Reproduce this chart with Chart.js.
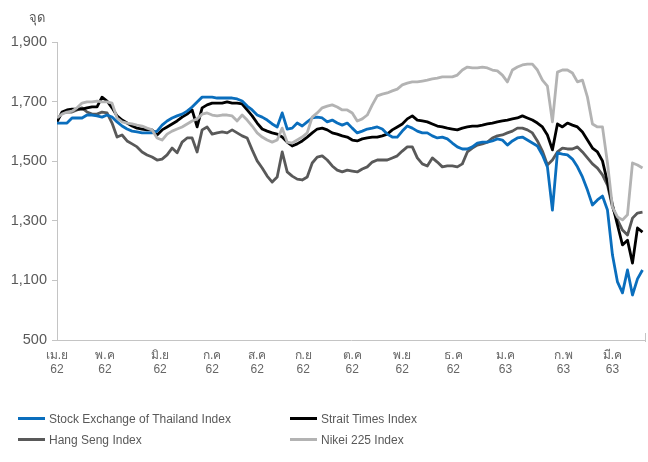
<!DOCTYPE html>
<html>
<head>
<meta charset="utf-8">
<script src="https://cdn.jsdelivr.net/npm/chart.js@4"></script>
<style>
  html, body { margin: 0; padding: 0; background: #ffffff; }
  #wrap { position: relative; width: 648px; height: 462px; }
  #chart { position: absolute; left: 0; top: 0; }
  #legend {
    position: absolute; left: 18px; top: 408px;
    display: grid; grid-template-columns: 272px 300px;
    font-family: 'Liberation Sans', 'DejaVu Sans', sans-serif;
    font-size: 12px; color: #595959;
  }
  .item { display: flex; align-items: center; height: 21px; white-space: nowrap; }
  .swatch { width: 27px; height: 3px; margin-right: 4px; }
</style>
</head>
<body>
<div id="wrap">
  <canvas id="chart" width="648" height="462"></canvas>
  <div id="legend"></div>
</div>
<script>
// Daily closes, April 2019 - March 2020 (one value per sample step)
const setIndex = [1628,1628,1628,1645,1645,1645,1655,1655,1652,1648, 1655,1648,1632,1618,1608,1601,1598,1595,1595,1595,
  1601,1621,1635,1645,1652,1658,1668,1682,1699,1715, 1715,1715,1712,1712,1712,1712,1709,1702,1685,1672,
  1655,1648,1638,1625,1615,1662,1608,1611,1628,1618, 1632,1645,1648,1645,1632,1638,1628,1621,1628,1611,
  1595,1601,1608,1611,1615,1608,1591,1581,1581,1601, 1618,1611,1601,1595,1595,1585,1578,1581,1575,1561,
  1548,1541,1541,1548,1561,1564,1564,1568,1575,1571, 1554,1568,1578,1581,1571,1561,1551,1521,1481,1336,
  1528,1524,1521,1507,1481,1447,1403,1353,1370,1383, 1336,1185,1095,1058,1135,1051,1105,1135];

const straitTimes = [1632,1665,1672,1675,1675,1675,1679,1682,1682,1715, 1702,1679,1652,1638,1628,1618,1611,1608,1605,1605,
  1588,1605,1615,1625,1635,1648,1658,1672,1615,1679, 1689,1695,1695,1695,1699,1695,1695,1692,1672,1652,
  1628,1608,1601,1595,1591,1581,1564,1551,1558,1568, 1581,1595,1608,1611,1605,1595,1591,1585,1581,1571,
  1568,1575,1578,1581,1581,1585,1591,1605,1615,1625, 1642,1652,1638,1635,1632,1625,1618,1615,1611,1608,
  1605,1611,1615,1618,1618,1621,1625,1628,1632,1635, 1638,1642,1645,1652,1645,1638,1628,1615,1588,1538,
  1625,1615,1628,1621,1615,1598,1571,1544,1531,1501, 1430,1353,1286,1219,1235,1158,1276,1262];

const hangSeng = [1638,1662,1665,1665,1672,1679,1665,1658,1658,1665, 1662,1628,1581,1588,1568,1558,1548,1531,1521,1514,
  1504,1507,1521,1544,1528,1564,1578,1578,1531,1605, 1615,1591,1595,1598,1595,1605,1595,1585,1578,1538,
  1501,1477,1450,1430,1447,1531,1464,1450,1440,1437, 1447,1494,1514,1518,1504,1484,1470,1464,1470,1467,
  1464,1474,1481,1497,1504,1504,1504,1511,1518,1534, 1548,1548,1511,1491,1484,1511,1497,1481,1484,1484,
  1481,1491,1531,1544,1554,1558,1564,1578,1585,1588, 1595,1601,1611,1611,1605,1595,1568,1534,1487,1504,
  1531,1544,1541,1541,1548,1531,1511,1491,1477,1454, 1420,1346,1303,1269,1252,1309,1326,1329];

const nikkei = [1645,1658,1665,1668,1679,1695,1699,1699,1702,1699, 1699,1695,1645,1632,1628,1625,1621,1618,1611,1605,
  1578,1571,1591,1601,1608,1615,1625,1635,1642,1658, 1662,1655,1652,1655,1655,1652,1635,1655,1638,1618,
  1595,1581,1571,1564,1571,1611,1564,1561,1571,1581, 1595,1648,1662,1679,1685,1689,1682,1672,1672,1662,
  1635,1642,1655,1689,1719,1725,1729,1736,1742,1756, 1762,1766,1766,1769,1772,1776,1779,1783,1783,1783,
  1789,1806,1816,1813,1813,1816,1813,1806,1803,1789, 1766,1806,1816,1823,1826,1826,1806,1772,1752,1632,
  1799,1806,1806,1796,1766,1772,1715,1625,1615,1615, 1494,1346,1313,1303,1320,1494,1487,1477];

// Month labels and where each month begins along the sample index
const monthLabels = [['เม.ย','62'],['พ.ค','62'],['มิ.ย','62'],['ก.ค','62'],['ส.ค','62'],['ก.ย','62'],
  ['ต.ค','62'],['พ.ย','62'],['ธ.ค','62'],['ม.ค','63'],['ก.พ','63'],['มี.ค','63']];
const monthStarts = [0, 9.6, 20.6, 31, 40, 49.2, 59, 69, 79.2, 89.6, 101.2, 111];

// Value axis: the lowest gridline is a broken-axis marker labelled 500
const yTickValues = [900, 1100, 1300, 1500, 1700, 1900];
const yTickLabels = ['500', '1,100', '1,300', '1,500', '1,700', '1,900'];
const yTitle = 'จุด';

const seriesNames = ['Stock Exchange of Thailand Index', 'Strait Times Index', 'Hang Seng Index', 'Nikei 225 Index'];
const seriesColors = ['#0a6ebd', '#000000', '#595959', '#b3b3b3'];

const FONT = "'Liberation Sans', 'DejaVu Sans', sans-serif";
Chart.defaults.font.family = FONT;

const toPoints = arr => arr.map((v, i) => ({ x: i, y: v }));
const seriesData = [setIndex, straitTimes, hangSeng, nikkei];
const drawOrder = [1, 2, 3, 0];

const extras = {
  id: 'extras',
  afterDraw(chart) {
    const { ctx, chartArea } = chart;
    ctx.save();
    ctx.fillStyle = '#595959';
    ctx.font = '13px ' + FONT;
    ctx.textAlign = 'center';
    ctx.textBaseline = 'middle';
    ctx.fillText(yTitle, chartArea.left - 20, chartArea.top - 24);
    ctx.strokeStyle = '#c4c4c4';
    ctx.lineWidth = 1;
    ctx.beginPath();
    ctx.moveTo(chartArea.right + 0.5, chartArea.bottom - 7);
    ctx.lineTo(chartArea.right + 0.5, chartArea.bottom + 2);
    ctx.stroke();
    ctx.restore();
  }
};

const chart = new Chart(document.getElementById('chart'), {
  type: 'line',
  data: {
    datasets: seriesData.map((arr, k) => ({
      label: seriesNames[k],
      data: toPoints(arr),
      borderColor: seriesColors[k],
      backgroundColor: seriesColors[k],
      borderWidth: 2.8,
      pointRadius: 0,
      tension: 0,
      borderJoinStyle: 'round',
      order: drawOrder[k]
    }))
  },
  options: {
    responsive: false,
    animation: false,
    layout: { padding: { left: 0, top: 42, right: 3, bottom: 82 } },
    plugins: { legend: { display: false }, tooltip: { enabled: false } },
    scales: {
      x: {
        type: 'linear',
        min: 0,
        max: 117.5,
        afterBuildTicks: s => { s.ticks = monthStarts.map(v => ({ value: v })); },
        afterFit: s => { s.height = 40; },
        grid: { display: true, drawOnChartArea: false, drawTicks: false },
        border: { display: true, color: '#c4c4c4', width: 1 },
        ticks: {
          autoSkip: false, maxRotation: 0, padding: 8,
          color: '#666666', font: { size: 12 },
          callback: (v, i) => monthLabels[i]
        }
      },
      y: {
        type: 'linear',
        min: 900,
        max: 1900,
        afterBuildTicks: s => { s.ticks = yTickValues.map(v => ({ value: v })); },
        afterFit: s => { s.width = 57; },
        grid: { display: true, drawOnChartArea: false, drawTicks: true, tickLength: 5, color: '#c4c4c4' },
        border: { display: true, color: '#c4c4c4', width: 1 },
        ticks: {
          padding: 5, color: '#595959', font: { size: 14.5 },
          callback: (v, i) => yTickLabels[i]
        }
      }
    }
  },
  plugins: [extras]
});

// Two-column legend built from the chart's datasets
const legend = document.getElementById('legend');
chart.data.datasets.forEach(ds => {
  const item = document.createElement('div');
  item.className = 'item';
  const sw = document.createElement('span');
  sw.className = 'swatch';
  sw.style.background = ds.borderColor;
  const txt = document.createElement('span');
  txt.textContent = ds.label;
  item.appendChild(sw);
  item.appendChild(txt);
  legend.appendChild(item);
});
</script>
</body>
</html>
